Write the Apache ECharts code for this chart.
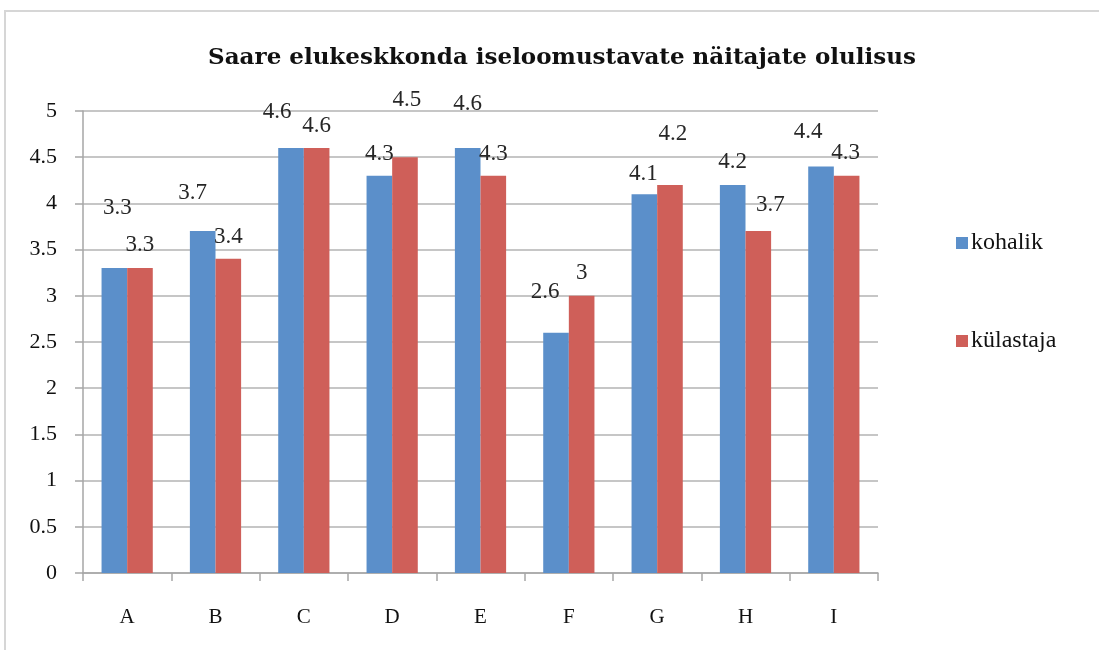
<!DOCTYPE html>
<html>
<head>
<meta charset="utf-8">
<script src="https://cdn.jsdelivr.net/npm/echarts@6/dist/echarts.min.js"></script>
<style>
  html, body { margin: 0; padding: 0; background: #fff; }
  #chart { width: 1099px; height: 650px; }
</style>
</head>
<body>
<div id="chart"></div>
<script>
// values
const categories = ['A', 'B', 'C', 'D', 'E', 'F', 'G', 'H', 'I'];
const kohalik = [3.3, 3.7, 4.6, 4.3, 4.6, 2.6, 4.1, 4.2, 4.4];
const kylastaja = [3.3, 3.4, 4.6, 4.5, 4.3, 3, 4.2, 3.7, 4.3];
const yTicks = [0, 0.5, 1, 1.5, 2, 2.5, 3, 3.5, 4, 4.5, 5];

// labels were dragged around by hand in the original, so nudge them the same way
const kohalikLabelShift = [[3, -44], [-10, -22], [-14, -20], [0, -5], [0, -28], [-11, -24], [-1, -4], [0, -6], [-13, -18]];
const kylastajaLabelShift = [[0, -7], [0, -5], [0, -6], [2, -41], [0, -5], [0, -6], [3, -34], [12, -10], [-1, -6]];

const serif = '"Liberation Serif", "DejaVu Serif", serif';

function withLabels(values, shifts) {
    return values.map((v, i) => ({
        value: v,
        label: { offset: shifts[i] }
    }));
}

let chart = echarts.init(document.getElementById('chart'));

const barLabel = {
    show: true,
    position: 'top',
    distance: 5,
    color: '#262626',
    fontFamily: serif,
    fontSize: 23
};

chart.setOption({
    animation: false,
    title: {
        text: 'Saare elukeskkonda iseloomustavate näitajate olulisus',
        left: 557,
        textAlign: 'center',
        top: 42,
        textStyle: {
            fontFamily: '"DejaVu Serif", serif',
            fontWeight: 'bold',
            fontSize: 23,
            color: '#111'
        }
    },
    legend: {
        orient: 'vertical',
        left: 951,
        top: 226,
        itemWidth: 12,
        itemHeight: 12,
        itemGap: 74,
        icon: 'rect',
        textStyle: {
            fontFamily: serif,
            fontSize: 24,
            color: '#111',
            padding: [0, 0, 0, -2]
        },
        data: ['kohalik', 'külastaja']
    },
    graphic: [{
        type: 'polyline',
        shape: { points: [[5, 650], [5, 11], [1099, 11]] },
        style: { stroke: '#d6d6d6', lineWidth: 2, fill: null }
    }],
    grid: {
        left: 83,
        right: 221,
        top: 111,
        bottom: 77,
        containLabel: false
    },
    xAxis: {
        type: 'category',
        data: categories,
        axisLine: { lineStyle: { color: '#a6a6a6', width: 1.5 } },
        axisTick: { show: true, length: 8, lineStyle: { color: '#a6a6a6', width: 1.5 } },
        axisLabel: {
            margin: 34,
            fontFamily: serif,
            fontSize: 21,
            color: '#111'
        }
    },
    yAxis: {
        type: 'value',
        min: yTicks[0],
        max: yTicks[yTicks.length - 1],
        interval: 0.5,
        axisLine: { show: true, lineStyle: { color: '#a6a6a6', width: 1.5 } },
        axisTick: { show: true, length: 8, lineStyle: { color: '#a6a6a6', width: 1.5 } },
        axisLabel: {
            margin: 26,
            fontFamily: serif,
            fontSize: 22,
            color: '#111'
        },
        splitLine: { lineStyle: { color: '#b3b3b3', width: 1.5 } }
    },
    series: [{
        name: 'kohalik',
        type: 'bar',
        data: withLabels(kohalik, kohalikLabelShift),
        barGap: '0%',
        barCategoryGap: '42%',
        itemStyle: { color: '#5b8fca' },
        label: barLabel
    }, {
        name: 'külastaja',
        type: 'bar',
        data: withLabels(kylastaja, kylastajaLabelShift),
        itemStyle: { color: '#cf5f59' },
        label: barLabel
    }]
});
</script>
</body>
</html>
